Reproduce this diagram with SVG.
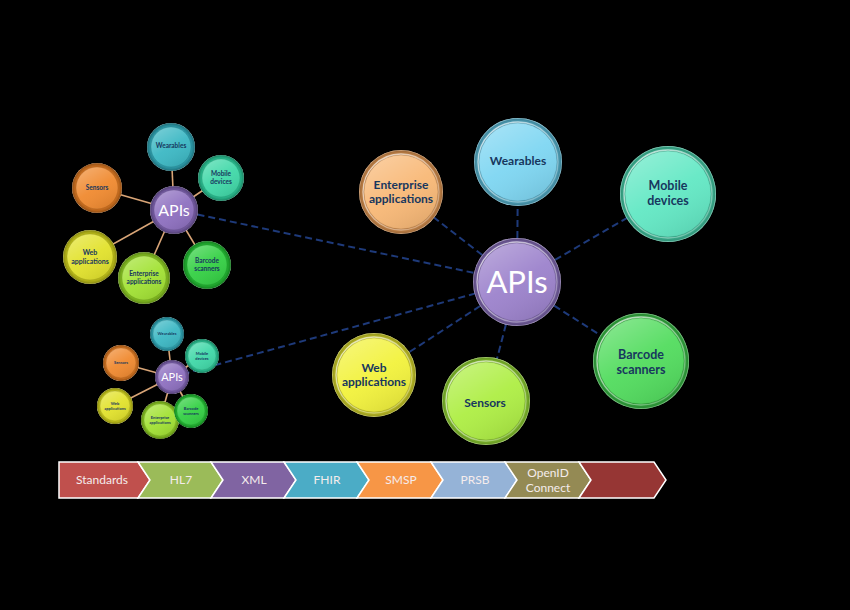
<svg xmlns="http://www.w3.org/2000/svg" width="850" height="610" viewBox="0 0 850 610">
<defs>
<radialGradient id="shade" cx="0.5" cy="0.5" r="0.5">
<stop offset="0.8" stop-color="#000" stop-opacity="0"/>
<stop offset="0.97" stop-color="#000" stop-opacity="0.3"/>
<stop offset="1" stop-color="#fff" stop-opacity="0.5"/>
</radialGradient>
<linearGradient id="face" x1="0.2" y1="0" x2="0.8" y2="1">
<stop offset="0" stop-color="#fff" stop-opacity="0.3"/>
<stop offset="0.5" stop-color="#fff" stop-opacity="0.05"/>
<stop offset="1" stop-color="#000" stop-opacity="0.1"/>
</linearGradient>
<linearGradient id="rim" x1="0" y1="0" x2="1" y2="1">
<stop offset="0" stop-color="#fff" stop-opacity="0.75"/>
<stop offset="1" stop-color="#fff" stop-opacity="0.2"/>
</linearGradient>
<style>
.sh{fill:url(#shade)}
.fc{fill:url(#face);stroke:#000;stroke-opacity:0.12;stroke-width:1}
.rm{fill:none;stroke:url(#rim);stroke-width:1.3}
.lbl{font-family:Lato,"Open Sans","Liberation Sans",sans-serif;font-weight:bold;fill:#17375E;text-anchor:middle}
.api{font-family:Lato,"Open Sans","Liberation Sans",sans-serif;fill:#fff;text-anchor:middle}
.dash{stroke:#1E3A7A;stroke-width:2;stroke-dasharray:7 4;fill:none}
.tan{stroke:#D9A577;stroke-width:1.6;fill:none}
.chev{stroke:#fff;stroke-width:1.5}
.ct{font-family:Lato,"Open Sans","Liberation Sans",sans-serif;font-size:12px;fill:#F5ECEC;text-anchor:middle}
</style>
</defs>
<rect width="850" height="610" fill="#000"/>

<g id="connectors">
<line class="dash" x1="176" y1="210" x2="517" y2="282"/>
<line class="dash" x1="172" y1="377" x2="517" y2="282"/>
<line class="dash" x1="517" y1="282" x2="401" y2="192"/>
<line class="dash" x1="517" y1="282" x2="518" y2="162"/>
<line class="dash" x1="517" y1="282" x2="668" y2="194"/>
<line class="dash" x1="517" y1="282" x2="641" y2="361"/>
<line class="dash" x1="517" y1="282" x2="486" y2="401"/>
<line class="dash" x1="517" y1="282" x2="374" y2="375"/>
<line class="tan" x1="174" y1="210" x2="171" y2="147"/>
<line class="tan" x1="174" y1="210" x2="221" y2="178"/>
<line class="tan" x1="174" y1="210" x2="97" y2="188"/>
<line class="tan" x1="174" y1="210" x2="90" y2="257"/>
<line class="tan" x1="174" y1="210" x2="144" y2="278"/>
<line class="tan" x1="174" y1="210" x2="207" y2="265"/>
<line class="tan" stroke-width="1" x1="172" y1="377" x2="167" y2="334"/>
<line class="tan" stroke-width="1" x1="172" y1="377" x2="202" y2="356"/>
<line class="tan" stroke-width="1" x1="172" y1="377" x2="121" y2="363"/>
<line class="tan" stroke-width="1" x1="172" y1="377" x2="115" y2="406"/>
<line class="tan" stroke-width="1" x1="172" y1="377" x2="160" y2="420"/>
<line class="tan" stroke-width="1" x1="172" y1="377" x2="191" y2="411"/>
</g>

<!-- Large cluster -->
<g id="big-enterprise">
<circle cx="401" cy="192" r="42" fill="#EC9E56"/><circle class="sh" cx="401" cy="192" r="42"/>
<circle cx="401" cy="192" r="37" fill="#F8B876"/><circle class="fc" cx="401" cy="192" r="37"/><circle class="rm" cx="401" cy="192" r="38"/>
<text class="lbl" font-size="12" x="401" y="189">Enterprise</text><text class="lbl" font-size="12" x="401" y="203">applications</text>
</g>
<g id="big-wearables">
<circle cx="518" cy="162" r="44" fill="#5EC2E0"/><circle class="sh" cx="518" cy="162" r="44"/>
<circle cx="518" cy="162" r="39" fill="#7ED6F2"/><circle class="fc" cx="518" cy="162" r="39"/><circle class="rm" cx="518" cy="162" r="40"/>
<text class="lbl" font-size="12" x="518" y="165">Wearables</text>
</g>
<g id="big-mobile">
<circle cx="668" cy="194" r="48" fill="#48D8B0"/><circle class="sh" cx="668" cy="194" r="48"/>
<circle cx="668" cy="194" r="43" fill="#62E8C4"/><circle class="fc" cx="668" cy="194" r="43"/><circle class="rm" cx="668" cy="194" r="44"/>
<text class="lbl" font-size="12.5" x="668" y="190">Mobile</text><text class="lbl" font-size="12.5" x="668" y="205">devices</text>
</g>
<g id="big-barcode">
<circle cx="641" cy="361" r="48" fill="#3CC84A"/><circle class="sh" cx="641" cy="361" r="48"/>
<circle cx="641" cy="361" r="43" fill="#52DC5E"/><circle class="fc" cx="641" cy="361" r="43"/><circle class="rm" cx="641" cy="361" r="44"/>
<text class="lbl" font-size="12.5" x="641" y="359">Barcode</text><text class="lbl" font-size="12.5" x="641" y="374">scanners</text>
</g>
<g id="big-sensors">
<circle cx="486" cy="401" r="44" fill="#98DE34"/><circle class="sh" cx="486" cy="401" r="44"/>
<circle cx="486" cy="401" r="39" fill="#AEEE44"/><circle class="fc" cx="486" cy="401" r="39"/><circle class="rm" cx="486" cy="401" r="40"/>
<text class="lbl" font-size="12" x="485" y="407">Sensors</text>
</g>
<g id="big-web">
<circle cx="374" cy="375" r="42" fill="#E0E02C"/><circle class="sh" cx="374" cy="375" r="42"/>
<circle cx="374" cy="375" r="37" fill="#F2F23C"/><circle class="fc" cx="374" cy="375" r="37"/><circle class="rm" cx="374" cy="375" r="38"/>
<text class="lbl" font-size="12" x="374" y="372">Web</text><text class="lbl" font-size="12" x="374" y="386">applications</text>
</g>
<g id="big-apis">
<circle cx="517" cy="282" r="44" fill="#8A70BE"/><circle class="sh" cx="517" cy="282" r="44"/>
<circle cx="517" cy="282" r="39" fill="#9C82CC"/><circle class="fc" cx="517" cy="282" r="39"/><circle class="rm" cx="517" cy="282" r="40"/>
<text class="api" font-size="31" x="517" y="293">APIs</text>
</g>

<!-- Small cluster 1 -->
<g id="s1-wearables">
<circle cx="171" cy="147" r="24" fill="#30A8B8"/><circle class="sh" cx="171" cy="147" r="24"/>
<circle cx="171" cy="147" r="20" fill="#3CB8C4"/><circle class="fc" cx="171" cy="147" r="20"/>
<text class="lbl" font-size="6.5" x="171" y="148">Wearables</text>
</g>
<g id="s1-mobile">
<circle cx="221" cy="178" r="23" fill="#2CC898"/><circle class="sh" cx="221" cy="178" r="23"/>
<circle cx="221" cy="178" r="19" fill="#40D8A8"/><circle class="fc" cx="221" cy="178" r="19"/>
<text class="lbl" font-size="6.5" x="221" y="176">Mobile</text><text class="lbl" font-size="6.5" x="221" y="184">devices</text>
</g>
<g id="s1-sensors">
<circle cx="97" cy="188" r="25" fill="#E07A22"/><circle class="sh" cx="97" cy="188" r="25"/>
<circle cx="97" cy="188" r="21" fill="#F08A30"/><circle class="fc" cx="97" cy="188" r="21"/>
<text class="lbl" font-size="6.5" x="97" y="190">Sensors</text>
</g>
<g id="s1-web">
<circle cx="90" cy="257" r="27" fill="#D0D01C"/><circle class="sh" cx="90" cy="257" r="27"/>
<circle cx="90" cy="257" r="23" fill="#E2E22C"/><circle class="fc" cx="90" cy="257" r="23"/>
<text class="lbl" font-size="7" x="90" y="255">Web</text><text class="lbl" font-size="7" x="90" y="264">applications</text>
</g>
<g id="s1-enterprise">
<circle cx="144" cy="278" r="26" fill="#90D024"/><circle class="sh" cx="144" cy="278" r="26"/>
<circle cx="144" cy="278" r="22" fill="#A2E234"/><circle class="fc" cx="144" cy="278" r="22"/>
<text class="lbl" font-size="6.5" x="144" y="276">Enterprise</text><text class="lbl" font-size="6.5" x="144" y="284">applications</text>
</g>
<g id="s1-barcode">
<circle cx="207" cy="265" r="24" fill="#24C034"/><circle class="sh" cx="207" cy="265" r="24"/>
<circle cx="207" cy="265" r="20" fill="#34D044"/><circle class="fc" cx="207" cy="265" r="20"/>
<text class="lbl" font-size="6.5" x="207" y="263">Barcode</text><text class="lbl" font-size="6.5" x="207" y="271">scanners</text>
</g>
<g id="s1-apis">
<circle cx="174" cy="210" r="24" fill="#7E62B0"/><circle class="sh" cx="174" cy="210" r="24"/>
<circle cx="174" cy="210" r="20" fill="#8E70C0"/><circle class="fc" cx="174" cy="210" r="20"/>
<text class="api" font-size="16" x="174" y="216">APIs</text>
</g>

<!-- Small cluster 2 -->
<g id="s2-wearables">
<circle cx="167" cy="334" r="17" fill="#30A8B8"/><circle class="sh" cx="167" cy="334" r="17"/>
<circle cx="167" cy="334" r="14" fill="#3CB8C4"/><circle class="fc" cx="167" cy="334" r="14"/>
<text class="lbl" font-size="4" x="167" y="335">Wearables</text>
</g>
<g id="s2-mobile">
<circle cx="202" cy="356" r="17" fill="#2CC898"/><circle class="sh" cx="202" cy="356" r="17"/>
<circle cx="202" cy="356" r="14" fill="#40D8A8"/><circle class="fc" cx="202" cy="356" r="14"/>
<text class="lbl" font-size="4" x="202" y="355">Mobile</text><text class="lbl" font-size="4" x="202" y="360">devices</text>
</g>
<g id="s2-sensors">
<circle cx="121" cy="363" r="18" fill="#E07A22"/><circle class="sh" cx="121" cy="363" r="18"/>
<circle cx="121" cy="363" r="15" fill="#F08A30"/><circle class="fc" cx="121" cy="363" r="15"/>
<text class="lbl" font-size="4" x="121" y="364">Sensors</text>
</g>
<g id="s2-web">
<circle cx="115" cy="406" r="18" fill="#D0D01C"/><circle class="sh" cx="115" cy="406" r="18"/>
<circle cx="115" cy="406" r="15" fill="#E2E22C"/><circle class="fc" cx="115" cy="406" r="15"/>
<text class="lbl" font-size="4" x="115" y="405">Web</text><text class="lbl" font-size="4" x="115" y="410">applications</text>
</g>
<g id="s2-enterprise">
<circle cx="160" cy="420" r="19" fill="#90D024"/><circle class="sh" cx="160" cy="420" r="19"/>
<circle cx="160" cy="420" r="16" fill="#A2E234"/><circle class="fc" cx="160" cy="420" r="16"/>
<text class="lbl" font-size="4" x="160" y="419">Enterprise</text><text class="lbl" font-size="4" x="160" y="424">applications</text>
</g>
<g id="s2-barcode">
<circle cx="191" cy="411" r="17" fill="#24C034"/><circle class="sh" cx="191" cy="411" r="17"/>
<circle cx="191" cy="411" r="14" fill="#34D044"/><circle class="fc" cx="191" cy="411" r="14"/>
<text class="lbl" font-size="4" x="191" y="410">Barcode</text><text class="lbl" font-size="4" x="191" y="415">scanners</text>
</g>
<g id="s2-apis">
<circle cx="172" cy="377" r="17" fill="#7E62B0"/><circle class="sh" cx="172" cy="377" r="17"/>
<circle cx="172" cy="377" r="14" fill="#8E70C0"/><circle class="fc" cx="172" cy="377" r="14"/>
<text class="api" font-size="11" x="172" y="381">APIs</text>
</g>

<!-- Chevron bar -->
<g id="standards-bar">
<polygon class="chev" fill="#C0504D" points="59,462 138,462 150,480 138,498 59,498"/>
<polygon class="chev" fill="#9BBB59" points="138,462 211,462 223,480 211,498 138,498 150,480"/>
<polygon class="chev" fill="#8064A2" points="211,462 284,462 296,480 284,498 211,498 223,480"/>
<polygon class="chev" fill="#4BACC6" points="284,462 357,462 369,480 357,498 284,498 296,480"/>
<polygon class="chev" fill="#F79646" points="357,462 431,462 443,480 431,498 357,498 369,480"/>
<polygon class="chev" fill="#95B3D7" points="431,462 505,462 517,480 505,498 431,498 443,480"/>
<polygon class="chev" fill="#948A54" points="505,462 579,462 591,480 579,498 505,498 517,480"/>
<polygon class="chev" fill="#963634" points="579,462 654,462 666,480 654,498 579,498 591,480"/>
<text class="ct" x="102" y="484">Standards</text>
<text class="ct" x="181" y="484">HL7</text>
<text class="ct" x="254" y="484">XML</text>
<text class="ct" x="327" y="484">FHIR</text>
<text class="ct" x="401" y="484">SMSP</text>
<text class="ct" x="475" y="484">PRSB</text>
<text class="ct" x="548" y="477">OpenID</text>
<text class="ct" x="548" y="492">Connect</text>
</g>
</svg>
